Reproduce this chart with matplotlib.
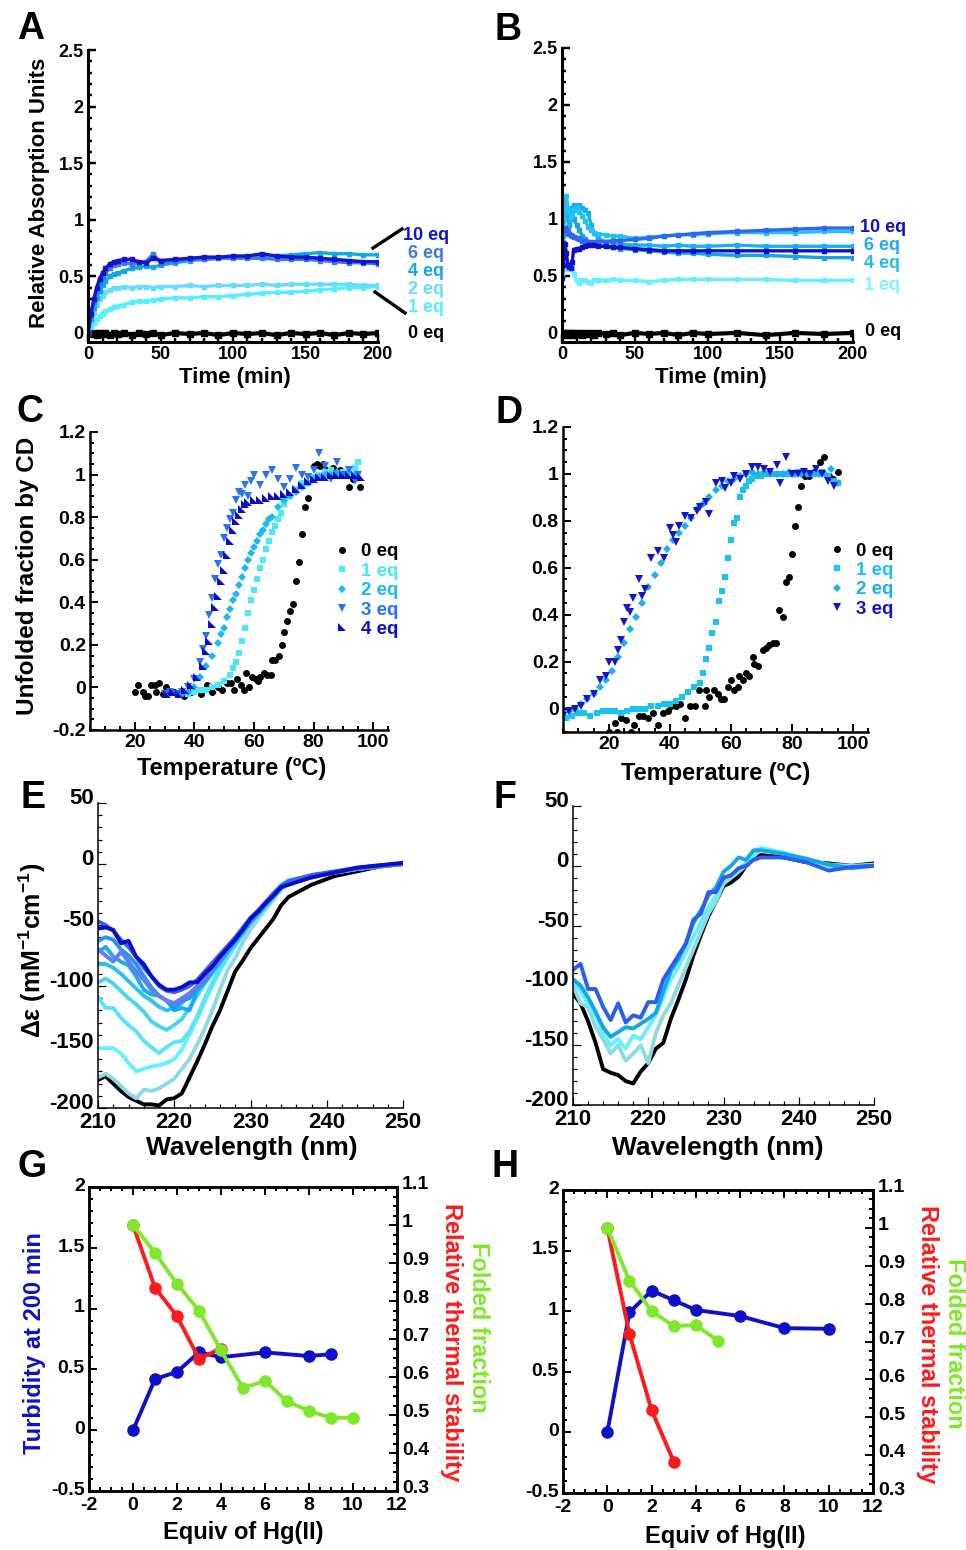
import matplotlib
matplotlib.use("Agg")
import matplotlib.pyplot as plt
from matplotlib.lines import Line2D
from matplotlib.transforms import ScaledTranslation
from matplotlib.ticker import MultipleLocator, FormatStrFormatter

# ---------------- data ----------------
# Panel A: turbidity vs time
a_time = [0, 2, 4, 6, 8, 10, 12, 15, 18, 21, 25, 30, 35, 40, 45, 50, 60, 70, 80, 90,
          100, 110, 120, 130, 140, 150, 160, 170, 180, 190, 200]
a_1eq = [0, 0.05, 0.09, 0.12, 0.15, 0.17, 0.19, 0.21, 0.23, 0.24, 0.25, 0.27, 0.28, 0.28, 0.29, 0.30,
         0.31, 0.31, 0.32, 0.32, 0.33, 0.34, 0.35, 0.36, 0.36, 0.37, 0.38, 0.39, 0.40, 0.40, 0.41]
a_2eq = [0, 0.10, 0.18, 0.25, 0.30, 0.33, 0.36, 0.38, 0.40, 0.40, 0.41, 0.40, 0.41, 0.41, 0.40, 0.41,
         0.41, 0.42, 0.41, 0.42, 0.42, 0.42, 0.43, 0.42, 0.43, 0.43, 0.43, 0.43, 0.43, 0.42, 0.42]
a_4eq = [0, 0.12, 0.22, 0.31, 0.37, 0.42, 0.46, 0.50, 0.52, 0.53, 0.55, 0.57, 0.58, 0.59, 0.58, 0.60,
         0.62, 0.64, 0.65, 0.66, 0.67, 0.67, 0.68, 0.68, 0.69, 0.70, 0.71, 0.70, 0.70, 0.69, 0.69]
a_6eq = [0, 0.15, 0.27, 0.37, 0.44, 0.49, 0.53, 0.57, 0.60, 0.61, 0.62, 0.61, 0.62, 0.63, 0.70, 0.62,
         0.64, 0.65, 0.65, 0.66, 0.66, 0.66, 0.66, 0.65, 0.65, 0.65, 0.64, 0.63, 0.62, 0.62, 0.61]
a_10eq = [0, 0.17, 0.30, 0.40, 0.48, 0.53, 0.57, 0.61, 0.63, 0.64, 0.65, 0.65, 0.63, 0.62, 0.66, 0.64,
          0.65, 0.66, 0.67, 0.67, 0.68, 0.68, 0.70, 0.68, 0.67, 0.67, 0.66, 0.65, 0.64, 0.63, 0.63]
a_0eq = [0, -0.01, 0, -0.02, 0, -0.01, 0, -0.02, 0, -0.01, 0, -0.02, 0, -0.01, 0, -0.02,
         0, -0.01, 0, -0.02, 0, -0.01, 0, -0.02, 0, -0.01, 0, -0.02, 0, -0.01, 0]

# Panel B
b_time = [0, 1, 2, 3, 4, 5, 6, 7, 8, 10, 12, 14, 16, 18, 20, 22, 25, 30, 35, 40,
          50, 60, 70, 80, 90, 100, 120, 140, 160, 180, 200]
b_1eq = [0.50, 0.55, 0.58, 0.57, 0.56, 0.58, 0.60, 0.58, 0.52, 0.46, 0.44, 0.46, 0.46, 0.45, 0.44, 0.46,
         0.46, 0.46, 0.47, 0.46, 0.46, 0.45, 0.46, 0.47, 0.47, 0.47, 0.47, 0.47, 0.46, 0.46, 0.46]
b_2eq = [0.70, 0.85, 0.90, 0.88, 0.90, 0.95, 1.00, 1.02, 1.00, 0.95, 0.90, 0.85, 0.82, 0.80, 0.79, 0.78,
         0.77, 0.76, 0.75, 0.74, 0.73, 0.72, 0.71, 0.70, 0.70, 0.69, 0.68, 0.68, 0.67, 0.66, 0.66]
b_4eq = [0.60, 1.00, 1.15, 1.20, 1.10, 1.05, 1.02, 1.05, 1.08, 1.10, 1.06, 1.03, 0.98, 0.93, 0.90, 0.88,
         0.87, 0.86, 0.85, 0.85, 0.83, 0.84, 0.85, 0.86, 0.86, 0.87, 0.88, 0.88, 0.88, 0.89, 0.89]
b_6eq = [0.70, 0.90, 1.00, 1.05, 1.00, 0.95, 1.05, 1.10, 1.12, 1.10, 1.12, 1.10, 1.08, 1.05, 0.95, 0.88,
         0.83, 0.80, 0.79, 0.78, 0.77, 0.77, 0.76, 0.77, 0.76, 0.76, 0.77, 0.76, 0.76, 0.76, 0.76]
b_8eq = [0.80, 0.90, 0.92, 0.90, 0.88, 0.87, 0.86, 0.85, 0.84, 0.83, 0.82, 0.81, 0.81, 0.80, 0.80, 0.80,
         0.80, 0.80, 0.81, 0.81, 0.82, 0.83, 0.85, 0.86, 0.87, 0.88, 0.89, 0.90, 0.91, 0.92, 0.92]
b_10eq = [0.48, 0.60, 0.78, 0.70, 0.60, 0.58, 0.57, 0.62, 0.73, 0.74, 0.74, 0.75, 0.76, 0.77, 0.77, 0.77,
          0.76, 0.76, 0.75, 0.75, 0.74, 0.73, 0.72, 0.72, 0.72, 0.72, 0.72, 0.72, 0.72, 0.72, 0.72]
b_0eq = [0, -0.01, 0, -0.02, 0, -0.01, 0, -0.02, 0, -0.01, 0, -0.02, 0, -0.01, 0, -0.02,
         0, -0.01, 0, -0.02, 0, -0.01, 0, -0.02, 0, -0.01, 0, -0.02, 0, -0.01, 0]

# Panel C: thermal melts
c0_t = [20, 21, 22.8, 23.5, 24.4, 25.5, 26.7, 27, 28.3, 29.4, 30.5, 31.7, 33.3, 35, 36.7, 38.9, 42.2, 44.4,
        46.1, 47.8, 49.4, 51.1, 52.2, 53.3, 54.4, 55.6, 56.7, 57.2, 58.3, 59.4, 60.6, 61.3, 62.2, 63.3,
        64.4, 65.6, 66.1, 67.2, 68.3, 69.4, 70.2, 71.1, 72.2, 73.1, 74, 75.1, 76.2, 77.3, 78.2, 80, 81.1,
        82.2, 83.3, 84.4, 86.7, 88.9, 92, 93.3, 95.5]
c0_v = [-0.02, 0.01, -0.02, -0.04, -0.04, 0.01, 0.01, -0.02, 0.02, -0.03, 0, -0.02, -0.02, -0.03, -0.04,
        -0.02, -0.03, 0.01, -0.02, 0, -0.01, 0.02, 0.02, -0.01, 0.04, 0.01, -0.01, 0.07, 0, 0.05, 0.04,
        0.03, 0.05, 0.07, 0.06, 0.06, 0.13, 0.13, 0.15, 0.2, 0.26, 0.31, 0.36, 0.39, 0.5, 0.59, 0.72, 0.85,
        0.89, 1.04, 1.05, 1.04, 1.05, 1.02, 1.03, 1.02, 0.94, 0.98, 0.94]
c1_t = [38, 40, 42, 44, 46, 48, 50, 52, 53, 54, 55, 56, 57, 58, 59, 60, 61, 62, 63, 64, 65, 66, 67, 68,
        69, 70, 72, 74, 76, 78, 80, 82, 84, 86, 88, 90, 92, 94, 95]
c1_v = [-0.03, -0.02, -0.01, -0.01, 0.0, 0.01, 0.03, 0.06, 0.09, 0.12, 0.16, 0.22, 0.28, 0.35, 0.41, 0.46,
        0.51, 0.56, 0.6, 0.65, 0.69, 0.73, 0.76, 0.79, 0.82, 0.86, 0.9, 0.93, 0.96, 0.96, 0.99, 1.0, 1.01,
        1.02, 1.0, 1.01, 1.0, 1.03, 1.06]
c2_t = [36, 38, 40, 42, 44, 46, 48, 49, 50, 51, 52, 53, 54, 55, 56, 57, 58, 59, 60, 61, 62, 63, 64, 65,
        66, 68, 70, 72, 74, 76, 78, 80, 82, 84, 86, 88, 90, 92, 94, 95]
c2_v = [-0.03, -0.02, 0.0, 0.05, 0.1, 0.15, 0.21, 0.25, 0.28, 0.33, 0.37, 0.41, 0.44, 0.48, 0.52, 0.56,
        0.6, 0.63, 0.66, 0.69, 0.72, 0.74, 0.77, 0.79, 0.8, 0.85, 0.88, 0.9, 0.92, 0.94, 0.96, 0.98, 0.99,
        1.0, 1.0, 1.01, 1.0, 1.01, 1.0, 0.99]
c3_t = [30, 32, 34, 36, 38, 40, 42, 43, 44, 45, 46, 47, 48, 49, 50, 51, 52, 53, 54, 55, 56, 57, 58, 59,
        60, 62, 64, 66, 68, 70, 72, 74, 76, 78, 80, 82, 84, 86, 88, 90, 92, 94, 95]
c3_v = [-0.03, -0.02, -0.03, -0.02, 0.0, 0.04, 0.12, 0.18, 0.24, 0.34, 0.42, 0.51, 0.58, 0.62, 0.7, 0.75,
        0.79, 0.82, 0.88, 0.92, 0.91, 0.95, 0.9, 0.97, 1.0, 0.95, 1.0, 1.02, 0.98, 0.94, 0.98, 1.03, 1.0,
        0.99, 1.02, 1.1, 1.04, 0.98, 1.06, 1.0, 1.02, 0.97, 1.0]
c4_t = [31, 33, 35, 37, 39, 41, 43, 44, 45, 46, 47, 48, 49, 50, 51, 52, 53, 54, 55, 56, 57, 58, 60, 62,
        64, 66, 68, 70, 72, 74, 76, 78, 80, 82, 84, 86, 88, 90, 92, 94, 96]
c4_v = [-0.03, -0.02, -0.03, -0.01, 0.01, 0.05, 0.1, 0.17, 0.22, 0.3, 0.38, 0.43, 0.5, 0.55, 0.62, 0.69,
        0.74, 0.78, 0.81, 0.84, 0.86, 0.87, 0.88, 0.88, 0.89, 0.9, 0.9, 0.91, 0.92, 0.93, 0.95, 0.97, 0.98,
        0.99, 0.99, 1.0, 1.0, 1.0, 1.0, 1.0, 0.99]

# Panel D
d0_t = [20, 21.9, 22.6, 24, 25.7, 27.3, 28.4, 29.8, 31.1, 32.8, 34.4, 36, 37.7, 39.4, 40.4, 42.1, 43.2, 45,
        46.6, 48.2, 49.7, 51.4, 51.9, 53, 54.6, 55.7, 56.8, 57.9, 59, 60.1, 61.2, 62.3, 62.8, 63.9, 65,
        66.1, 67.2, 67.7, 68.9, 70.5, 71.6, 72.7, 73.8, 74.9, 75.8, 77.1, 78, 79.1, 80.1, 81, 82.1, 83.1,
        84.2, 85.8, 87.4, 89.1, 90.7, 92.3, 93.4, 95.1]
d0_v = [-0.1, -0.06, -0.1, -0.04, -0.05, -0.1, -0.07, -0.03, -0.03, -0.04, -0.02, -0.07, -0.02, -0.01,
        0.01, 0.01, 0.02, -0.04, 0.01, 0.01, 0.08, 0.01, 0.08, 0.05, 0.08, 0.06, 0.04, 0.04, 0.09, 0.12,
        0.08, 0.09, 0.14, 0.12, 0.15, 0.14, 0.22, 0.19, 0.18, 0.25, 0.26, 0.27, 0.28, 0.28, 0.42, 0.39,
        0.54, 0.56, 0.66, 0.78, 0.86, 0.95, 0.99, 0.99, 1.01, 1.05, 1.07, 0.99, 0.98, 1.01]
d1_t = [5, 6, 8, 10, 12, 14, 16, 18, 20, 22, 24, 26, 28, 30, 32, 34, 36, 38, 40, 42, 44, 46, 48, 50, 51,
        52, 53, 54, 55, 56, 57, 58, 59, 60, 61, 62, 63, 64, 65, 66, 67, 68, 70, 72, 74, 76, 78, 80, 82,
        84, 86, 88, 90, 92, 94, 95]
d1_v = [-0.02, -0.04, -0.03, -0.02, -0.02, -0.03, -0.02, -0.01, -0.01, -0.01, -0.02, -0.01, 0.0, 0.0,
        0.0, 0.01, 0.01, 0.02, 0.02, 0.03, 0.05, 0.07, 0.09, 0.11, 0.15, 0.21, 0.26, 0.32, 0.37, 0.46,
        0.5, 0.56, 0.64, 0.72, 0.79, 0.81, 0.9, 0.93, 0.95, 0.97, 0.98, 0.99, 0.99, 1.0, 1.0, 1.0, 1.0,
        1.0, 1.01, 1.01, 1.0, 1.0, 1.01, 0.99, 0.97, 0.96]
d2_t = [5, 7, 9, 11, 13, 15, 17, 19, 21, 23, 25, 27, 29, 31, 33, 35, 37, 39, 41, 43, 45, 47, 49, 51, 53,
        55, 57, 59, 61, 63, 65, 67, 69, 71, 73, 75, 77, 79, 81, 83, 85, 87, 89, 91, 93, 95]
d2_v = [-0.02, -0.01, 0.0, 0.02, 0.04, 0.06, 0.09, 0.12, 0.16, 0.22, 0.28, 0.34, 0.39, 0.45, 0.52, 0.57,
        0.62, 0.68, 0.72, 0.75, 0.78, 0.81, 0.85, 0.87, 0.9, 0.93, 0.95, 0.97, 0.98, 0.99, 1.0, 1.01, 1.0,
        1.01, 1.0, 1.0, 1.0, 1.01, 1.0, 1.0, 1.0, 1.0, 1.0, 1.0, 1.02, 0.96]
d3_t = [5, 7, 9, 11, 13, 15, 17, 19, 20, 22, 23, 24, 25, 26, 27, 28, 30, 31, 32, 34, 36, 38, 40, 41, 42,
        43, 45, 47, 49, 50, 52, 53, 55, 57, 58, 60, 61, 63, 65, 67, 69, 71, 73, 75, 76, 78, 80, 82, 84,
        86, 88, 90, 92, 94]
d3_v = [-0.03, -0.01, 0.0, 0.01, 0.04, 0.06, 0.12, 0.14, 0.2, 0.2, 0.25, 0.29, 0.37, 0.43, 0.41, 0.47,
        0.55, 0.48, 0.51, 0.64, 0.67, 0.64, 0.77, 0.74, 0.71, 0.78, 0.82, 0.81, 0.84, 0.86, 0.88, 0.83,
        0.96, 0.97, 0.94, 0.96, 0.99, 0.98, 1.0, 1.03, 1.03, 1.02, 1.01, 1.04, 0.96, 1.07, 1.0, 1.0, 1.01,
        1.0, 1.02, 1.0, 0.97, 0.95]

# Panels E/F: CD spectra
wavelength = [210, 211, 212, 213, 214, 215, 216, 217, 218, 219, 220, 221, 222, 223, 224, 225, 226,
              227, 228, 229, 230, 231, 232, 233, 234, 235, 238, 241, 244, 247, 250]
e_spectra = [
    [-177, -174, -180, -186, -191, -194, -197, -197, -198, -193, -192, -188, -175, -162, -148, -133,
     -120, -104, -88, -79, -69, -61, -53, -45, -34, -27, -17, -10, -6, -2, 0],
    [-175, -172, -176, -182, -188, -192, -185, -186, -184, -180, -176, -168, -160, -148, -135, -120,
     -103, -87, -77, -64, -54, -45, -37, -29, -21, -16, -11, -7, -4, -2, 0],
    [-151, -151, -151, -155, -163, -170, -168, -166, -165, -163, -160, -152, -140, -127, -113, -100,
     -88, -77, -67, -57, -48, -40, -32, -24, -17, -13, -10, -7, -4, -2, 0],
    [-109, -118, -118, -126, -132, -137, -145, -150, -155, -150, -146, -145, -137, -125, -110, -97,
     -86, -76, -67, -58, -49, -42, -35, -27, -20, -15, -10, -7, -4, -2, 0],
    [-97, -94, -98, -104, -110, -115, -121, -129, -133, -136, -132, -127, -118, -108, -98, -90, -82,
     -73, -65, -56, -47, -40, -33, -26, -19, -15, -10, -7, -4, -2, 0],
    [-82, -82, -85, -90, -96, -102, -108, -112, -117, -120, -118, -114, -108, -101, -94, -87, -79,
     -71, -63, -55, -47, -40, -33, -26, -19, -15, -10, -7, -4, -2, 0],
    [-72, -68, -76, -80, -83, -92, -103, -107, -108, -112, -120, -118, -120, -104, -97, -88, -80,
     -72, -64, -56, -48, -41, -34, -27, -20, -16, -11, -7, -4, -2, 0],
    [-63, -60, -62, -70, -75, -82, -92, -101, -108, -112, -118, -112, -110, -102, -95, -87, -78,
     -70, -62, -54, -46, -39, -32, -25, -19, -15, -10, -7, -4, -2, 0],
    [-70, -75, -80, -72, -80, -88, -95, -103, -108, -112, -114, -110, -106, -100, -94, -86, -78,
     -70, -62, -54, -46, -39, -32, -25, -19, -15, -10, -7, -4, -2, 0],
    [-47, -50, -55, -62, -68, -76, -85, -92, -100, -104, -105, -103, -100, -95, -88, -81, -74, -67,
     -60, -52, -44, -38, -31, -24, -18, -14, -9, -6, -3, -1, 0],
    [-53, -52, -54, -65, -63, -76, -82, -92, -99, -103, -103, -101, -97, -97, -90, -84, -76, -69,
     -62, -54, -45, -39, -32, -26, -19, -17, -11, -7, -3, -1, 1],
]
e_colors = ["black", "#8adbe4", "#66f0ff", "#5ae4fb", "#48d4f5", "#2cc2f2", "#18acee", "#2398e8",
            "#6a7af0", "#3a62f2", "#0c0cc8"]
f_spectra = [
    [-107, -115, -130, -148, -170, -173, -175, -180, -182, -172, -165, -153, -148, -128, -112, -95,
     -75, -58, -42, -30, -17, -14, -9, 0, 6, 9, 7, 3, 2, 0, 2],
    [-100, -115, -118, -135, -145, -157, -150, -163, -157, -150, -165, -140, -125, -115, -100, -85,
     -70, -55, -40, -30, -15, -10, -5, 0, 8, 14, 10, 4, 1, 0, 1],
    [-97, -105, -115, -125, -140, -150, -145, -153, -142, -145, -135, -125, -110, -95, -85, -72, -60,
     -47, -35, -25, -12, -8, -3, 3, 10, 15, 11, 5, 0, -1, 0],
    [-95, -100, -110, -122, -135, -143, -139, -135, -136, -132, -128, -123, -105, -88, -78, -65, -48,
     -37, -25, -18, -5, 0, 7, 5, 13, 13, 10, 6, 1, -2, 0],
    [-87, -82, -103, -103, -118, -129, -115, -131, -125, -127, -114, -114, -95, -85, -75, -65, -45,
     -40, -22, -22, -10, -8, -2, 0, 5, 7, 7, 3, -4, -1, 0],
]
f_colors = ["black", "#8adbe4", "#66f0ff", "#12a8e8", "#2a5ef0"]

# Panels G/H: summary vs equivalents of Hg(II)
g_turb_x = [0, 1, 2, 3, 4, 6, 8, 9]
g_turb_y = [0, 0.42, 0.48, 0.64, 0.6, 0.64, 0.61, 0.625]
g_stab_x = [0, 1, 2, 3, 4]
g_stab_y = [1.0, 0.835, 0.76, 0.648, 0.675]
g_fold_x = [0, 1, 2, 3, 4, 5, 6, 7, 8, 9, 10]
g_fold_y = [1.0, 0.927, 0.845, 0.775, 0.67, 0.571, 0.59, 0.536, 0.511, 0.492, 0.493]
h_turb_x = [0, 1, 2, 3, 4, 6, 8, 10]
h_turb_y = [0, 0.99, 1.17, 1.09, 1.01, 0.96, 0.86, 0.855]
h_stab_x = [0, 1, 2, 3]
h_stab_y = [1.0, 0.72, 0.519, 0.383]
h_fold_x = [0, 1, 2, 3, 4, 5]
h_fold_y = [1.0, 0.861, 0.78, 0.741, 0.743, 0.702]

# ---------------- style ----------------
plt.rcParams["font.family"] = ["Liberation Sans", "DejaVu Sans"]
plt.rcParams["font.weight"] = "bold"
plt.rcParams["axes.unicode_minus"] = False
plt.rcParams["mathtext.fontset"] = "custom"
plt.rcParams["mathtext.rm"] = "Liberation Sans:bold"
plt.rcParams["mathtext.bf"] = "Liberation Sans:bold"
plt.rcParams["mathtext.it"] = "Liberation Sans:bold"

W, H = 966, 1550
fig = plt.figure(figsize=(W / 100, H / 100), dpi=100)


def box(l, t, r, b):
    return fig.add_axes([l / W, 1 - b / H, (r - l) / W, (b - t) / H])


def ftext(x, y, s, **kw):
    kw.setdefault("ha", "center")
    kw.setdefault("va", "center")
    return fig.text(x / W, 1 - y / H, s, **kw)


def style(ax, lw, size, xmaj, xmin, ymaj, ymin, box_all=False, xpad=3):
    for side, sp in ax.spines.items():
        sp.set_linewidth(lw)
        if not box_all and side in ("top", "right"):
            sp.set_visible(False)
    ax.xaxis.set_major_locator(MultipleLocator(xmaj))
    ax.xaxis.set_minor_locator(MultipleLocator(xmin))
    ax.yaxis.set_major_locator(MultipleLocator(ymaj))
    ax.yaxis.set_minor_locator(MultipleLocator(ymin))
    ax.yaxis.set_major_formatter(FormatStrFormatter("%g"))
    ax.xaxis.set_major_formatter(FormatStrFormatter("%g"))
    ax.tick_params(which="both", direction="in", width=lw * 0.8, labelsize=size, pad=3)
    ax.tick_params(axis="x", pad=xpad)
    ax.tick_params(which="major", length=6)
    ax.tick_params(which="minor", length=3)
    if box_all:
        ax.tick_params(which="both", top=True)
    ax.patch.set_alpha(0)


def lift_ylabels(ax, pts, which="left"):
    # nudge y tick labels upward a little, as in the original layout
    shift = ScaledTranslation(0, pts / 72, fig.dpi_scale_trans)
    labels = ax.get_yticklabels(which="major")
    if which == "right":
        labels = [t.label2 for t in ax.yaxis.get_major_ticks()]
    for lbl in labels:
        lbl.set_transform(lbl.get_transform() + shift)


# ---- A ----
axA = box(88, 50, 378, 342)
axA.plot(a_time, a_0eq, "-s", color="black", lw=3, ms=4.5)
for y, c in [(a_1eq, "#55eeff"), (a_2eq, "#66ddff"), (a_4eq, "#10a8e6"),
             (a_6eq, "#3a78ee"), (a_10eq, "#1414c8")]:
    axA.plot(a_time, y, "-s", color=c, lw=2.4, ms=3)
axA.set_xlim(0, 200)
axA.set_ylim(-0.08, 2.5)
style(axA, 2.2, 13, 50, 10, 0.5, 0.1)
for lab, x, y, c in [("10 eq", 403, 235, "#1414c8"), ("6 eq", 408, 253, "#3a78ee"),
                     ("4 eq", 408, 271, "#10a8e6"), ("2 eq", 408, 289, "#66ddff"),
                     ("1 eq", 408, 307, "#55eeff"), ("0 eq", 408, 333, "black")]:
    ftext(x, y, lab, ha="left", color=c, fontsize=13)
for (x1, y1, x2, y2) in [(373, 248, 402, 229), (375, 292, 405, 313)]:
    fig.add_artist(Line2D([x1 / W, x2 / W], [1 - y1 / H, 1 - y2 / H], color="black", lw=2.4,
                          transform=fig.transFigure))
ftext(235, 377, "Time (min)", fontsize=16)
ftext(40, 193, "Relative Absorption Units", fontsize=16, rotation=90)

# ---- B ----
axB = box(562, 48, 853, 342)
axB.plot(b_time, b_0eq, "-s", color="black", lw=3, ms=4.5)
for y, c in [(b_1eq, "#66f0ff"), (b_2eq, "#1aa0e4"), (b_6eq, "#1ab0ec"),
             (b_4eq, "#22c2f4"), (b_8eq, "#3066ee"), (b_10eq, "#1010cc")]:
    axB.plot(b_time, y, "-s", color=c, lw=2.4, ms=3)
axB.set_xlim(0, 200)
axB.set_ylim(-0.08, 2.5)
style(axB, 2.2, 13, 50, 10, 0.5, 0.1)
for lab, x, y, c in [("10 eq", 860, 228, "#1010cc"), ("6 eq", 864, 245, "#20aaee"),
                     ("4 eq", 864, 264, "#22bbee"), ("1 eq", 864, 286, "#80f4ff"),
                     ("0 eq", 865, 332, "black")]:
    ftext(x, y, lab, ha="left", color=c, fontsize=13)
ftext(711, 377, "Time (min)", fontsize=16)

# ---- C ----
tri = [(-1, 1), (-1, -1), (1, -1)]
axC = box(90, 432, 388, 730)
c_series = [(c0_t, c0_v, "o", "black", 5, "0 eq"),
            (c1_t, c1_v, "s", "#4ae8f8", 4.5, "1 eq"),
            (c2_t, c2_v, "D", "#1ab8f0", 4.0, "2 eq"),
            (c3_t, c3_v, "v", "#2a72f5", 5.5, "3 eq"),
            (c4_t, c4_v, tri, "#0c0cc8", 5.5, "4 eq")]
for t, v, m, c, ms, lab in c_series:
    axC.plot(t, v, marker=m, color=c, ms=ms, mew=0, ls="none", label=lab)
axC.set_xlim(5, 105)
axC.set_ylim(-0.2, 1.2)
style(axC, 1.8, 14, 20, 5, 0.2, 0.05)
axC.legend(loc="upper left", bbox_to_anchor=(325 / W, 1 - 534 / H), bbox_transform=fig.transFigure,
           frameon=False, handlelength=0.8, handletextpad=0.6, labelspacing=0.12, borderpad=0,
           prop={"size": 13.5, "weight": "bold"}, labelcolor=[s[3] for s in c_series])
ftext(232, 768, "Temperature (ºC)", fontsize=17)
ftext(28, 576, "Unfolded fraction by CD", fontsize=17.5, rotation=90)

# ---- D ----
axD = box(563, 427, 868, 732)
d_series = [(d0_t, d0_v, "o", "black", 5, "0 eq"),
            (d1_t, d1_v, "s", "#1ac2f2", 4.5, "1 eq"),
            (d2_t, d2_v, "D", "#1ab2ea", 4.0, "2 eq"),
            (d3_t, d3_v, "v", "#1414d0", 5.5, "3 eq")]
for t, v, m, c, ms, lab in d_series:
    axD.plot(t, v, marker=m, color=c, ms=ms, mew=0, ls="none", label=lab)
axD.set_xlim(5, 105)
axD.set_ylim(-0.1, 1.2)
style(axD, 1.8, 14, 20, 5, 0.2, 0.05)
axD.legend(loc="upper left", bbox_to_anchor=(820 / W, 1 - 533 / H), bbox_transform=fig.transFigure,
           frameon=False, handlelength=0.8, handletextpad=0.6, labelspacing=0.12, borderpad=0,
           prop={"size": 13.5, "weight": "bold"}, labelcolor=[s[3] for s in d_series])
ftext(716, 773, "Temperature (ºC)", fontsize=17)

# ---- E ----
axE = box(98, 803, 403, 1108)
for y, c in zip(e_spectra, e_colors):
    axE.plot(wavelength, y, color=c, lw=2.8)
axE.set_xlim(210, 250)
axE.set_ylim(-200, 50)
style(axE, 1.1, 16, 10, 2, 50, 10, xpad=3)
lift_ylabels(axE, 5)
ftext(252, 1148, "Wavelength (nm)", fontsize=19)
ftext(32, 950, "Δε (mM$^{-1}$cm$^{-1}$)", fontsize=18, rotation=90)

# ---- F ----
axF = box(573, 806, 874, 1105)
for y, c in zip(f_spectra, f_colors):
    axF.plot(wavelength, y, color=c, lw=2.8)
axF.set_xlim(210, 250)
axF.set_ylim(-200, 50)
style(axF, 1.1, 16, 10, 2, 50, 10, xpad=3)
lift_ylabels(axF, 5)
ftext(718, 1148, "Wavelength (nm)", fontsize=19)

# ---- G / H ----
BLUE, RED, GREEN = "#1010c8", "#ff1a1a", "#80e82a"


def summary(rect, tx, ty, sx, sy, fx, fy):
    ax = box(*rect)
    ax.plot(tx, ty, "-o", color=BLUE, lw=2.8, ms=8)
    ax.set_xlim(-2, 12)
    ax.set_ylim(-0.5, 2)
    style(ax, 1.8, 14, 2, 0.5, 0.5, 0.1, box_all=True, xpad=4)
    ax.tick_params(which="both", right=False)
    lift_ylabels(ax, 2)
    ax2 = ax.twinx()
    ax2.plot(sx, sy, "-o", color=RED, lw=2.8, ms=8)
    ax2.plot(fx, fy, "-o", color=GREEN, lw=2.8, ms=8)
    ax2.set_ylim(0.3, 1.1)
    ax2.yaxis.set_major_locator(MultipleLocator(0.1))
    ax2.yaxis.set_minor_locator(MultipleLocator(0.025))
    ax2.yaxis.set_major_formatter(FormatStrFormatter("%g"))
    ax2.tick_params(which="both", direction="in", width=1.4, labelsize=14)
    ax2.tick_params(which="major", length=6)
    ax2.tick_params(which="minor", length=3)
    for sp in ax2.spines.values():
        sp.set_linewidth(1.8)
    lift_ylabels(ax2, 3, which="right")
    return ax


summary((89, 1187, 397, 1491), g_turb_x, g_turb_y, g_stab_x, g_stab_y, g_fold_x, g_fold_y)
ftext(243, 1533, "Equiv of Hg(II)", fontsize=17)
ftext(35, 1343, "Turbidity at 200 min", fontsize=17, rotation=90, color=BLUE)
ftext(452, 1342, "Relative thermal stability", fontsize=17, rotation=270, color=RED)
ftext(478, 1327, "Folded fraction", fontsize=17, rotation=270, color=GREEN)

summary((563, 1190, 873, 1493), h_turb_x, h_turb_y, h_stab_x, h_stab_y, h_fold_x, h_fold_y)
ftext(725, 1536, "Equiv of Hg(II)", fontsize=17)
ftext(927, 1344, "Relative thermal stability", fontsize=17, rotation=270, color=RED)
ftext(955, 1343, "Folded fraction", fontsize=17, rotation=270, color=GREEN)

# panel letters
for lab, x, y in [("A", 31, 29), ("B", 508, 30), ("C", 30, 412), ("D", 509, 413),
                  ("E", 33, 798), ("F", 505, 798), ("G", 32, 1167), ("H", 505, 1167)]:
    ftext(x, y, lab, fontsize=27)

fig.savefig("out.png", dpi=100)
